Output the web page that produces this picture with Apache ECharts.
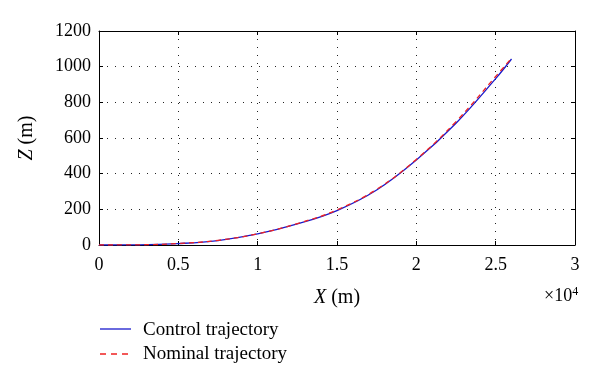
<!DOCTYPE html>
<html><head><meta charset="utf-8">
<script src="https://cdn.jsdelivr.net/npm/echarts@6/dist/echarts.min.js"></script>
<style>html,body{margin:0;padding:0;background:#fff}#c{width:600px;height:389px}</style>
</head><body><div id="c"></div>
<script>
var xValues = [0, 2500, 5000, 7500, 10000, 12500, 15000, 17500, 20000, 22500, 25000, 26000];
var controlZ = [0, 1, 8, 25, 62, 118, 193, 308, 476, 683, 933, 1043];
var nominalZ = [0, 1, 8, 26, 63, 120, 197, 312, 480, 692, 945, 1048];
var xTickLabels = ['0', '0.5', '1', '1.5', '2', '2.5', '3'];
var yTicks = [0, 200, 400, 600, 800, 1000, 1200];
var seriesNames = ['Control trajectory', 'Nominal trajectory'];
var seriesColors = ['#1a1acc', '#ee2222'];

function pairs(xs, ys) { return xs.map(function (x, i) { return [x, ys[i]]; }); }
var FONT = 'Liberation Serif';
var chart = echarts.init(document.getElementById('c'));
var axisCommon = {
  axisLine: { show: true, onZero: false, lineStyle: { color: '#000', width: 1 } },
  axisTick: { show: true, inside: true, length: 4, lineStyle: { color: '#000' } }
};
chart.setOption({
  animation: false,
  grid: { left: 99, right: 25, top: 31, bottom: 144, containLabel: false },
  xAxis: [
    Object.assign({}, axisCommon, {
      type: 'value', min: 0, max: 30000, interval: 5000, position: 'bottom',
      axisLabel: { fontFamily: FONT, fontSize: 18, color: '#000', margin: 11,
        formatter: function (v) { return xTickLabels[Math.round(v / 5000)]; } },
      splitLine: { show: true, lineStyle: { color: '#222', type: [1, 7], width: 1 } },
      name: '{i|X} (m)', nameLocation: 'middle', nameGap: 43,
      nameTextStyle: { fontFamily: FONT, fontSize: 20, color: '#000',
        rich: { i: { fontFamily: FONT, fontStyle: 'italic', fontSize: 20, color: '#000' } } }
    }),
    Object.assign({}, axisCommon, {
      type: 'value', min: 0, max: 30000, interval: 5000, position: 'top',
      axisLabel: { show: false }, splitLine: { show: false }
    })
  ],
  yAxis: [
    Object.assign({}, axisCommon, {
      type: 'value', min: 0, max: 1200, interval: 200, position: 'left',
      axisLabel: { fontFamily: FONT, fontSize: 18, color: '#000', margin: 8,
        formatter: function (v) { return String(v); } },
      splitLine: { show: true, lineStyle: { color: '#222', type: [1, 7], width: 1 } },
      name: '{i|Z} (m)', nameLocation: 'middle', nameGap: 62, nameRotate: 90,
      nameTextStyle: { fontFamily: FONT, fontSize: 20, color: '#000',
        rich: { i: { fontFamily: FONT, fontStyle: 'italic', fontSize: 20, color: '#000' } } }
    }),
    Object.assign({}, axisCommon, {
      type: 'value', min: 0, max: 1200, interval: 200, position: 'right',
      axisLabel: { show: false }, splitLine: { show: false }
    })
  ],
  graphic: [
    { type: 'text', left: 544, top: 286,
      style: { text: '×10{s|4}', fontFamily: FONT, fontSize: 18, fill: '#000',
        rich: { s: { fontFamily: FONT, fontSize: 12, verticalAlign: 'top', padding: [0, 0, 9, 0] } } } },
    { type: 'line', shape: { x1: 100, y1: 329, x2: 131, y2: 329 },
      style: { stroke: seriesColors[0], lineWidth: 1.3 } },
    { type: 'line', shape: { x1: 100, y1: 354, x2: 131, y2: 354 },
      style: { stroke: seriesColors[1], lineWidth: 1.3, lineDash: [6, 5] } },
    { type: 'text', left: 143, top: 321,
      style: { text: seriesNames[0], fontFamily: FONT, fontSize: 19, fill: '#000' } },
    { type: 'text', left: 143, top: 345,
      style: { text: seriesNames[1], fontFamily: FONT, fontSize: 19, fill: '#000' } }
  ],
  series: [
    { name: seriesNames[0], type: 'line', data: pairs(xValues, controlZ), smooth: 0.4,
      showSymbol: false, symbol: 'none', lineStyle: { color: seriesColors[0], width: 1.3 }, z: 2 },
    { name: seriesNames[1], type: 'line', data: pairs(xValues, nominalZ), smooth: 0.4,
      showSymbol: false, symbol: 'none', lineStyle: { color: seriesColors[1], width: 1.3, type: [5, 4] }, z: 3 }
  ]
});
</script></body></html>
